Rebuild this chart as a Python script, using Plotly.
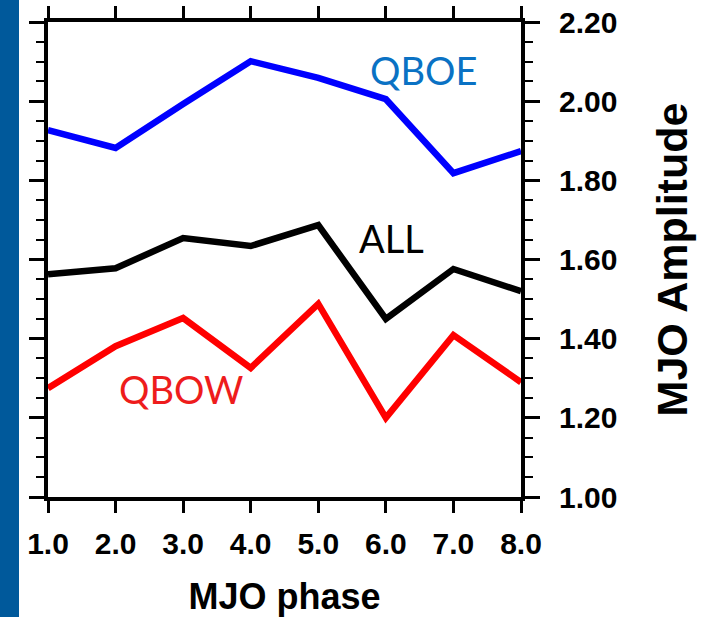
import plotly.graph_objects as go

phase = [1, 2, 3, 4, 5, 6, 7, 8]
qboe = [1.927, 1.882, 1.993, 2.101, 2.059, 2.005, 1.818, 1.874]
all_ = [1.563, 1.578, 1.654, 1.634, 1.687, 1.450, 1.576, 1.520]
qbow = [1.275, 1.381, 1.452, 1.326, 1.488, 1.200, 1.409, 1.290]

x_ticks = [1, 2, 3, 4, 5, 6, 7, 8]
y_ticks = [1.0, 1.2, 1.4, 1.6, 1.8, 2.0, 2.2]

fig = go.Figure()
fig.add_trace(go.Scatter(x=phase, y=qboe, mode="lines", line=dict(color="#0000ff", width=6.5), name="QBOE"))
fig.add_trace(go.Scatter(x=phase, y=all_, mode="lines", line=dict(color="#000000", width=6.5), name="ALL"))
fig.add_trace(go.Scatter(x=phase, y=qbow, mode="lines", line=dict(color="#ff0000", width=6.5), name="QBOW"))

tickfont = dict(family="Liberation Sans, Arial, sans-serif", size=30, color="black", weight="bold")
titlefont = dict(family="Liberation Sans, Arial, sans-serif", size=36, color="black", weight="bold")

fig.update_layout(
    width=705, height=617,
    margin=dict(l=48, r=184, t=22, b=120, autoexpand=False),
    paper_bgcolor="white", plot_bgcolor="white",
    showlegend=False,
    xaxis=dict(
        range=[1, 8], tickvals=x_ticks, ticktext=[f"{v:.1f}" for v in x_ticks],
        showgrid=False, zeroline=False, automargin=False,
        showline=True, linecolor="black", linewidth=4, mirror="ticks",
        ticks="outside", ticklen=12, tickwidth=3, tickcolor="black",
        tickfont=tickfont, ticklabelstandoff=5,
        title=dict(text="MJO phase", font=titlefont, standoff=26),
    ),
    yaxis=dict(
        range=[1.0, 2.2], side="right", tickvals=y_ticks, ticktext=[f"{v:.2f}" for v in y_ticks],
        showgrid=False, zeroline=False, automargin=False,
        showline=True, linecolor="black", linewidth=4, mirror="ticks",
        ticks="outside", ticklen=15, tickwidth=3, tickcolor="black",
        minor=dict(dtick=0.05, tick0=1.0, ticks="outside", ticklen=8, tickwidth=2, tickcolor="black", showgrid=False),
        tickfont=tickfont, ticklabelstandoff=13,
        title=dict(text="MJO Amplitude", font=dict(family="Liberation Sans, Arial, sans-serif", size=43, color="black", weight="bold"), standoff=42),
    ),
    shapes=[dict(type="rect", xref="paper", yref="paper", x0=-0.1015, x1=-0.0613, y0=-0.30, y1=1.06,
                 fillcolor="#00599b", line=dict(width=0), layer="above")],
    annotations=[
        dict(text="QBOE", x=6.55, y=2.078, xref="x", yref="y", showarrow=False,
             font=dict(family="Lato, Open Sans, sans-serif", size=38, color="#0a72c4")),
        dict(text="ALL", x=6.08, y=1.655, xref="x", yref="y", showarrow=False,
             font=dict(family="Lato, Open Sans, sans-serif", size=38, color="black")),
        dict(text="QBOW", x=2.97, y=1.272, xref="x", yref="y", showarrow=False,
             font=dict(family="Lato, Open Sans, sans-serif", size=38, color="#ee1c1c")),
    ],
)

fig.write_html("out.html")
